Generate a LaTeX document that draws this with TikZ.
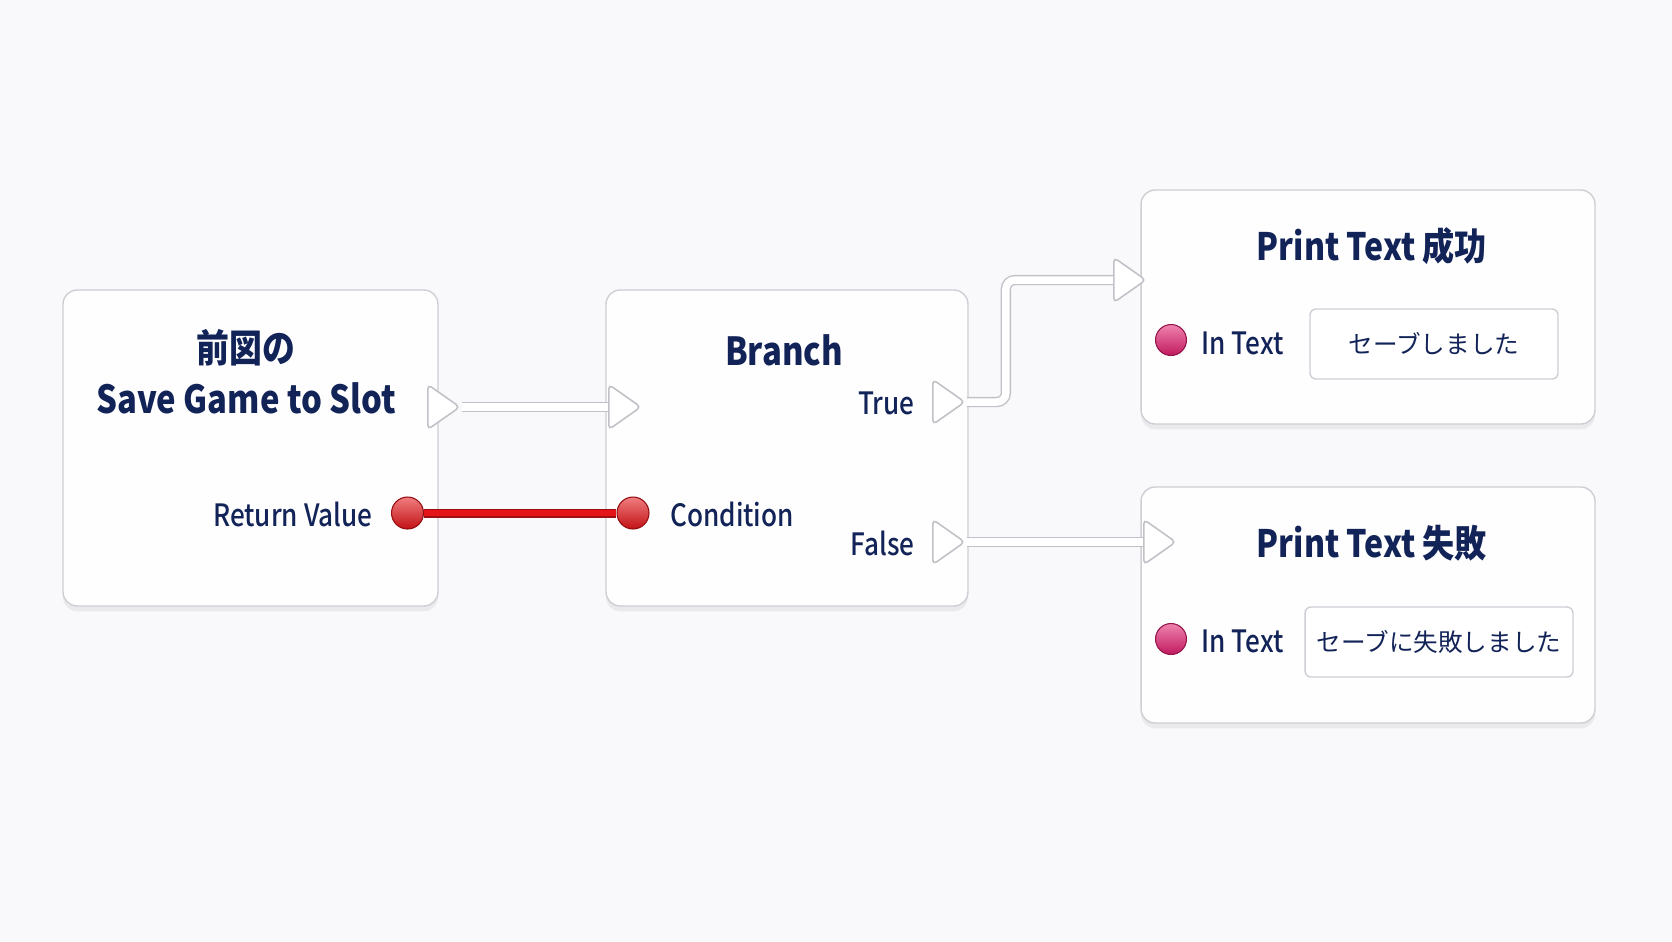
\documentclass[tikz,border=0pt]{standalone}
\usepackage{fontspec}
\setmainfont{Noto Sans CJK JP}
\newfontfamily\narrowfont{Noto Sans CJK JP}[FakeStretch=0.85]
\newfontfamily\labelfont{Noto Sans CJK JP Medium}[FakeStretch=0.85]
\usepackage{tikz}
\usetikzlibrary{shapes.geometric,shadows}
\definecolor{bgcolor}{RGB}{249,249,251}
\definecolor{panelfill}{RGB}{254,254,255}
\definecolor{panelline}{RGB}{205,207,212}
\definecolor{navy}{RGB}{18,35,88}
\definecolor{wireline}{RGB}{192,194,200}
\definecolor{pinred}{RGB}{228,20,24}
\definecolor{pinpink}{RGB}{226,30,110}
\tikzset{
    graph node/.style={draw=panelline, fill=panelfill, line width=0.8pt, rounded corners=0.28cm,
            drop shadow={shadow xshift=0pt, shadow yshift=-3pt, opacity=0.12}},
    node title/.style={text=navy, font=\narrowfont\bfseries\fontsize{22}{29}\selectfont, align=center},
    print title/.style={text=navy, font=\narrowfont\bfseries\fontsize{21.5}{25}\selectfont},
    pin label/.style={text=navy, font=\labelfont\fontsize{17.5}{20}\selectfont, inner sep=0pt},
    exec pin/.style={isosceles triangle, isosceles triangle stretches, draw=wireline, fill=white,
            line width=0.9pt, rounded corners=2.5pt, minimum width=0.9cm, minimum height=0.64cm,
            inner sep=0pt, anchor=west},
    data pin/.style={circle, draw=#1!65!black, line width=0.6pt, top color=#1!55!white,
            middle color=#1, bottom color=#1!85!black, minimum size=0.64cm, inner sep=0pt},
    exec wire/.style={draw=wireline, line width=0.8pt, double=white, double distance=0.15cm, rounded corners=0.18cm},
    data wire/.style={draw=pinred!70!black, line width=0.035cm, double=pinred, double distance=0.11cm},
    input box/.style={draw=panelline, fill=white, line width=0.8pt, rounded corners=0.12cm,
            minimum height=1.4cm, text=navy, font=\fontsize{14}{16}\selectfont},
}
\begin{document}
\begin{tikzpicture}[x=0.02cm, y=-0.02cm]
    \fill[bgcolor] (0,0) rectangle (1672,941);
    % panels
    \node[graph node, minimum width=7.5cm, minimum height=6.32cm] (save) at (250.5,448) {};
    \node[graph node, minimum width=7.24cm, minimum height=6.32cm] (branch) at (787,448) {};
    \node[graph node, minimum width=9.08cm, minimum height=4.68cm] (printok) at (1368,307) {};
    \node[graph node, minimum width=9.08cm, minimum height=4.72cm] (printng) at (1368,605) {};
    % titles
    \node[node title] (savetitle) at (246,372) {前図の\\Save Game to Slot};
    \node[node title] (branchtitle) at (784,350) {Branch};
    \node[print title] (printoktitle) at (1372,246) {Print Text 成功};
    \node[print title] (printngtitle) at (1372,543) {Print Text 失敗};
    % pins
    \node[exec pin] (saveout) at (427,407) {};
    \node[exec pin] (branchin) at (608,407) {};
    \node[exec pin] (trueout) at (932,402) {};
    \node[exec pin] (falseout) at (932,542) {};
    \node[exec pin] (printokin) at (1113,280) {};
    \node[exec pin] (printngin) at (1143,542) {};
    \node[data pin=pinred] (retpin) at (407.5,513) {};
    \node[data pin=pinred] (condpin) at (633,513) {};
    \node[data pin=pinpink, minimum size=0.62cm] (textokpin) at (1171,340) {};
    \node[data pin=pinpink, minimum size=0.62cm] (textngpin) at (1171,639) {};
    % labels
    \node[pin label, anchor=east] (truelabel) at (915,403) {True};
    \node[pin label, anchor=east] (falselabel) at (915,543) {False};
    \node[pin label, anchor=east] (retlabel) at (373,514) {Return Value};
    \node[pin label, anchor=west] (condlabel) at (670,514) {Condition};
    \node[pin label, anchor=west] (textoklabel) at (1201,343) {In Text};
    \node[pin label, anchor=west] (textnglabel) at (1201,641) {In Text};
    \node[input box, minimum width=4.96cm] (textokbox) at (1434,344) {セーブしました};
    \node[input box, minimum width=5.36cm] (textngbox) at (1439,642) {セーブに失敗しました};
    % wires
    \draw[exec wire] (saveout.east) -- (branchin.west);
    \draw[exec wire] (trueout.east) -- ++(39,0) |- (printokin.west);
    \draw[exec wire] (falseout.east) -- (printngin.west);
    \draw[data wire] (retpin.east) -- (condpin.west);
\end{tikzpicture}
\end{document}
